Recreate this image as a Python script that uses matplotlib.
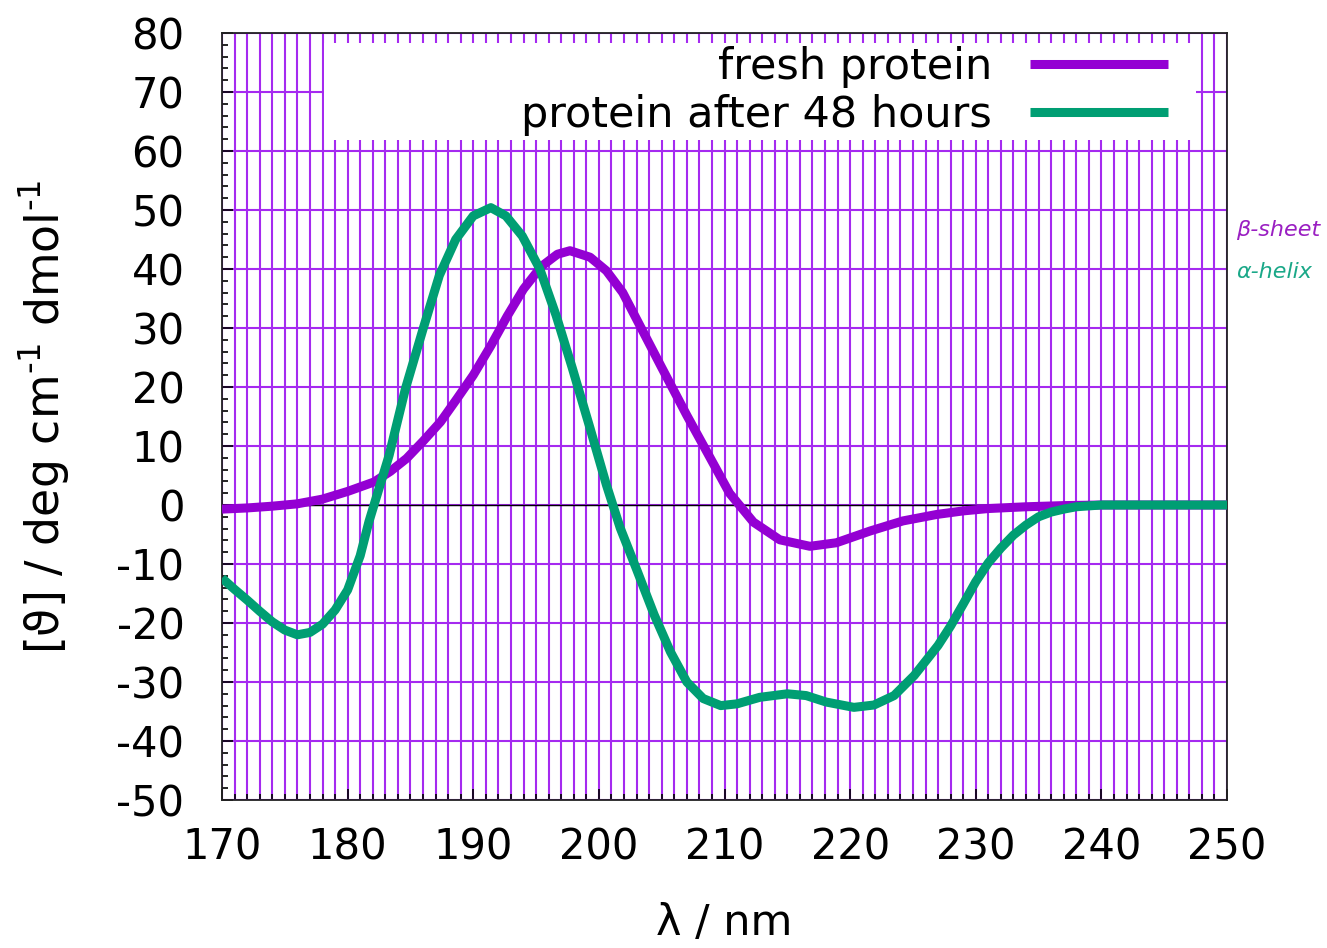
import matplotlib
matplotlib.use("Agg")
import matplotlib.pyplot as plt
from matplotlib.patches import Rectangle
from matplotlib.ticker import MultipleLocator

plt.rcParams["axes.unicode_minus"] = False

# Data
fresh_x = [170, 172, 174, 176, 178, 180, 182.1, 183.4, 184.7, 186, 187.4, 188.7, 190,
           191.4, 192.7, 194, 195.4, 196.7, 197.7, 199.3, 200.6, 201.9, 203, 205, 207,
           208.6, 210.4, 212.3, 214.4, 216.8, 218.9, 221.6, 224.2, 226.9, 229, 231,
           234, 237, 240, 245, 250]
fresh_y = [-0.7, -0.5, -0.2, 0.2, 1.0, 2.3, 3.9, 5.7, 7.9, 10.8, 14.1, 18.0, 22.0,
           27.0, 32.0, 36.6, 40.4, 42.5, 43.1, 42.0, 39.7, 36.0, 31.5, 23.3, 15.2,
           9.0, 2.0, -2.9, -5.9, -7.0, -6.4, -4.4, -2.7, -1.6, -1.0, -0.6,
           -0.3, -0.1, 0.0, 0.0, 0.0]

aged_x = [170, 171, 172, 173, 174, 175, 176, 177, 178, 179, 180, 181, 181.7,
          183.3, 184.6, 186, 187.3, 188.6, 190, 191.4, 192.6, 193.9, 195.3, 196.6,
          197.9, 199.3, 200.6, 201.7, 203, 204.4, 205.7, 207, 208.3, 209.7, 211,
          212.8, 215, 216.5, 218.1, 220.3, 221.9, 223.5, 225.1, 227, 228, 229, 230,
          231, 232, 233, 234, 235, 236, 237, 238, 240, 245, 250]
aged_y = [-12.4, -14.3, -16.1, -18.0, -19.8, -21.2, -22.0, -21.6, -20.2, -17.8, -14.4,
          -8.6, -2.8, 8.4, 19.7, 29.8, 38.9, 45.0, 49.0, 50.4, 49.0, 45.6, 40.0,
          32.1, 23.1, 13.0, 3.4, -3.9, -10.9, -18.6, -24.9, -30.0, -32.8, -34.0, -33.7,
          -32.6, -32.0, -32.3, -33.4, -34.3, -33.9, -32.3, -28.9, -23.8, -20.5, -16.8,
          -13.0, -9.8, -7.3, -5.1, -3.4, -2.0, -1.2, -0.7, -0.3, 0.0, 0.0, 0.0]

labels = ["fresh protein", "protein after 48 hours"]
notes = ["β-sheet", "α-helix"]

purple = "#9400D3"
green = "#009E73"
grid_c = "#A52AF0"

fig = plt.figure(figsize=(13.27, 9.48), dpi=100)
ax = fig.add_axes([222/1327, 148/948, 1005/1327, 767/948])
ax.set_xlim(170, 250)
ax.set_ylim(-50, 80)

ax.xaxis.set_major_locator(MultipleLocator(10))
ax.xaxis.set_minor_locator(MultipleLocator(1))
ax.yaxis.set_major_locator(MultipleLocator(10))
ax.yaxis.set_minor_locator(MultipleLocator(2))

ax.grid(which="minor", axis="x", color=grid_c, linewidth=1.5, zorder=0)
ax.grid(which="major", axis="x", color=grid_c, linewidth=1.5, zorder=0)
ax.grid(which="major", axis="y", color=grid_c, linewidth=1.5, zorder=0)
ax.set_axisbelow(True)

ax.tick_params(which="both", direction="in", top=False, right=False,
               labelsize=30, width=1.2, color="black")
ax.tick_params(axis="x", which="both", pad=19)
ax.tick_params(axis="y", which="both", pad=27)
ax.tick_params(which="major", length=8)
ax.tick_params(which="minor", length=4)
for s in ax.spines.values():
    s.set_linewidth(1.3)
    s.set_color("#222222")

ax.axhline(0, color="black", linewidth=1.0, zorder=2)

# white legend background
ax.add_patch(Rectangle((0.1015, 0.8605), 0.8675, 0.127, transform=ax.transAxes,
                       facecolor="white", edgecolor="none", zorder=1.5))

l1, = ax.plot(fresh_x, fresh_y, color=purple, linewidth=6.5, label=labels[0],
              zorder=3, solid_joinstyle="round", solid_capstyle="butt")
l2, = ax.plot(aged_x, aged_y, color=green, linewidth=6.5, label=labels[1],
              zorder=4, solid_joinstyle="round", solid_capstyle="butt")

leg = ax.legend(handles=[l1, l2], loc="upper right", bbox_to_anchor=(0.941, 0.983),
                frameon=False, markerfirst=False, fontsize=31, handlelength=3.2,
                handletextpad=0.88, labelspacing=0.14, borderaxespad=0, borderpad=0)

ax.set_xlabel("λ / nm", fontsize=31, labelpad=24)
ax.set_ylabel("[ϑ] / deg cm$^{\\mathregular{\u20101}}$ dmol$^{\\mathregular{\u20101}}$",
              fontsize=33, labelpad=32)

fig.text(1236/1327, 1 - 230/948, notes[0], color="#9A1FC2", fontsize=16,
         style="italic", va="center", ha="left")
fig.text(1236/1327, 1 - 272/948, notes[1], color="#1AA888", fontsize=16,
         style="italic", va="center", ha="left")

fig.savefig("out.png", dpi=100)
